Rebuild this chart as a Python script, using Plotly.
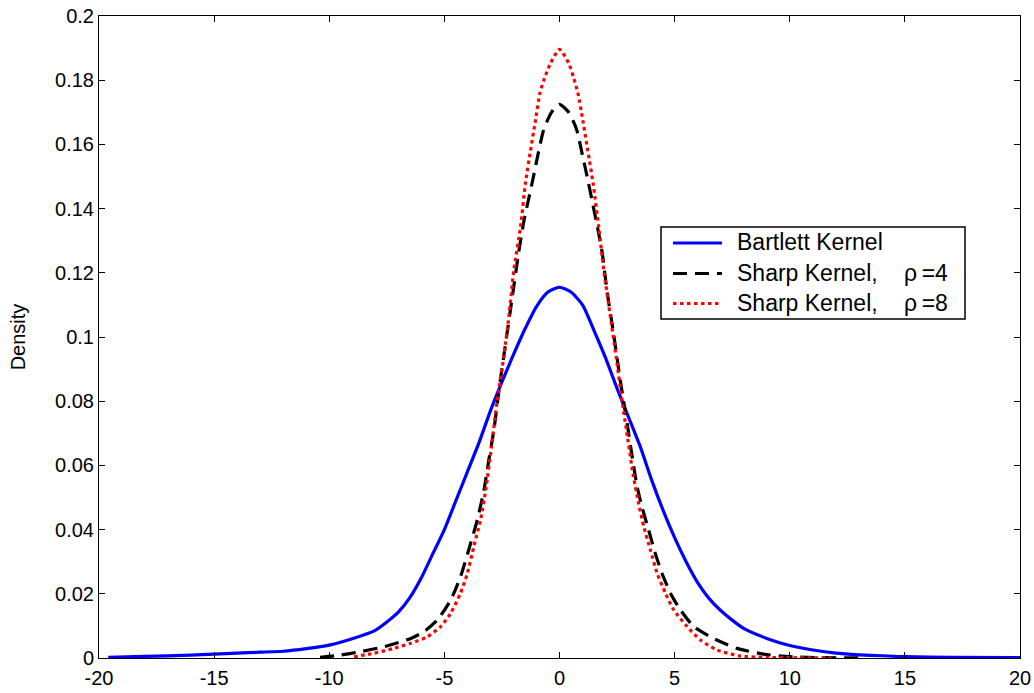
import plotly.graph_objects as go

# Bartlett kernel density estimate
x_bartlett = [-19.6, -18, -16, -15, -14, -13, -12, -11, -10, -9, -8, -7.5, -7, -6.5, -6,
              -5.5, -5, -4.5, -4, -3.5, -3, -2.5, -2, -1.5, -1, -0.5, 0, 0.5, 1, 1.5,
              2, 2.5, 3, 3.5, 4, 4.5, 5, 5.5, 6, 6.5, 7, 7.5, 8, 9, 10, 11, 12, 13,
              14, 15, 17, 20]
y_bartlett = [0.0002, 0.0005, 0.0009, 0.0012, 0.0015, 0.0018, 0.0021, 0.0029, 0.0040,
              0.0060, 0.0086, 0.0112, 0.0143, 0.0188, 0.0250, 0.0325, 0.0400, 0.0490,
              0.0580, 0.0670, 0.0770, 0.0860, 0.0945, 0.1025, 0.1095, 0.1140, 0.1155,
              0.1140, 0.1100, 0.1020, 0.0935, 0.0840, 0.0750, 0.0660, 0.0555, 0.0460,
              0.0375, 0.0300, 0.0235, 0.0185, 0.0148, 0.0118, 0.0092, 0.0061, 0.0039,
              0.0025, 0.0015, 0.0010, 0.0007, 0.0004, 0.0002, 0.0001]

# Sharp kernel, rho = 4
x_sharp4 = [-10.4, -9.6, -8.63, -7.62, -6.46, -5.89, -5.31, -4.73, -4.3, -3.86, -3.57,
            -3.28, -3.07, -2.85, -2.6, -2.34, -2.06, -1.77, -1.55, -1.34, -1.13, -0.91,
            -0.69, -0.35, 0, 0.4, 0.75, 1.0, 1.2, 1.4, 1.6, 1.85, 2.07, 2.35, 2.65,
            2.94, 3.15, 3.37, 3.58, 3.87, 4.16, 4.45, 4.82, 5.25, 5.83, 6.69, 7.71,
            8.86, 10, 11.5, 13.3]
y_sharp4 = [0.0002, 0.0008, 0.0020, 0.0035, 0.0061, 0.0082, 0.0118, 0.0180, 0.0253,
            0.0357, 0.0430, 0.0523, 0.0617, 0.0710, 0.0850, 0.0980, 0.1120, 0.1265,
            0.1360, 0.1430, 0.1500, 0.1577, 0.1645, 0.1700, 0.1725, 0.1700, 0.1645,
            0.1565, 0.1500, 0.1430, 0.1360, 0.1265, 0.1140, 0.1010, 0.0860, 0.0730,
            0.0630, 0.0534, 0.0471, 0.0399, 0.0326, 0.0264, 0.0202, 0.0150, 0.0098,
            0.0061, 0.0030, 0.0012, 0.0004, 0.0001, 0.0]

# Sharp kernel, rho = 8
x_sharp8 = [-8.92, -8.05, -7.19, -6.46, -5.74, -5.16, -4.73, -4.3, -4.0, -3.72, -3.43,
            -3.2, -2.95, -2.71, -2.42, -2.2, -1.98, -1.69, -1.48, -1.26, -1.04, -0.85,
            -0.65, -0.39, 0, 0.4, 0.62, 0.8, 1.01, 1.23, 1.46, 1.70, 1.92, 2.21, 2.46,
            2.72, 2.95, 3.2, 3.44, 3.66, 3.95, 4.24, 4.6, 4.96, 5.54, 6.12, 6.84, 7.85,
            9, 11.8]
y_sharp8 = [0.0004, 0.0015, 0.0030, 0.0046, 0.0066, 0.0098, 0.0139, 0.0202, 0.0264,
            0.0347, 0.0430, 0.0525, 0.0660, 0.0800, 0.0939, 0.1063, 0.1210, 0.1344,
            0.1479, 0.1580, 0.1676, 0.1760, 0.1806, 0.1853, 0.1896, 0.1853, 0.1806,
            0.1760, 0.1676, 0.1580, 0.1479, 0.1344, 0.1210, 0.1063, 0.0939, 0.0800,
            0.0690, 0.0570, 0.0480, 0.0410, 0.0336, 0.0264, 0.0202, 0.0150, 0.0098,
            0.0056, 0.0025, 0.0006, 0.0002, 0.0]

x_ticks = [-20, -15, -10, -5, 0, 5, 10, 15, 20]
x_tick_labels = ["-20", "-15", "-10", "-5", "0", "5", "10", "15", "20"]
y_ticks = [0, 0.02, 0.04, 0.06, 0.08, 0.1, 0.12, 0.14, 0.16, 0.18, 0.2]
y_tick_labels = ["0", "0.02", "0.04", "0.06", "0.08", "0.1", "0.12", "0.14", "0.16",
                 "0.18", "0.2"]

legend_names = ["Bartlett Kernel", "Sharp Kernel,", "Sharp Kernel,"]
legend_params = ["", "\u03c1\u2009=4", "\u03c1\u2009=8"]

FONT = "Arial, 'Liberation Sans', Helvetica, sans-serif"
W, H = 1034, 693
M_L, M_R, M_T, M_B = 99, 14, 16, 35
PW, PH = W - M_L - M_R, H - M_T - M_B


def px_to_paper(px, py):
    """Convert a pixel position on the page to paper coordinates."""
    return (px - M_L) / PW, (H - M_B - py) / PH


styles = [
    dict(color="#0000ff", width=3.2),
    dict(color="#000000", width=3.2, dash="14px,8px"),
    dict(color="#ff0000", width=3.2, dash="3.5px,3.5px"),
]

fig = go.Figure()
for xs, ys, name, st in zip([x_bartlett, x_sharp4, x_sharp8],
                            [y_bartlett, y_sharp4, y_sharp8],
                            ["Bartlett Kernel", "Sharp Kernel, \u03c1=4",
                             "Sharp Kernel, \u03c1=8"], styles):
    fig.add_trace(go.Scatter(x=xs, y=ys, mode="lines", name=name,
                             line=dict(shape="spline", smoothing=0.6, **st),
                             showlegend=False))

axis_common = dict(showline=True, linecolor="black", linewidth=1, mirror="ticks",
                   ticks="inside", ticklen=6, tickcolor="black", tickwidth=1,
                   showgrid=False, zeroline=False, automargin=False,
                   tickfont=dict(family=FONT, size=20, color="black"))

# Legend box drawn on the paper
shapes = []
annotations = []
bx0, by0 = px_to_paper(661, 227)
bx1, by1 = px_to_paper(965, 319)
shapes.append(dict(type="rect", xref="paper", yref="paper", x0=bx0, x1=bx1,
                   y0=by1, y1=by0, line=dict(color="black", width=1.5),
                   fillcolor="white", layer="above"))
rows_y = [243, 273.5, 303.5]
for ry, st, nm, prm in zip(rows_y, styles, legend_names, legend_params):
    lx0, ly = px_to_paper(673, ry)
    lx1, _ = px_to_paper(722, ry)
    shapes.append(dict(type="line", xref="paper", yref="paper", x0=lx0, x1=lx1,
                       y0=ly, y1=ly, line=st, layer="above"))
    tx, ty = px_to_paper(735, ry - 1)
    annotations.append(dict(xref="paper", yref="paper", x=tx, y=ty, text=nm,
                            showarrow=False, xanchor="left", yanchor="middle",
                            font=dict(family=FONT, size=23, color="black")))
    if prm:
        px_, _ = px_to_paper(902, ry - 1)
        annotations.append(dict(xref="paper", yref="paper", x=px_, y=ty, text=prm,
                                showarrow=False, xanchor="left", yanchor="middle",
                                font=dict(family=FONT, size=23, color="black")))

fig.update_layout(
    width=W, height=H,
    margin=dict(l=M_L, r=M_R, t=M_T, b=M_B),
    paper_bgcolor="white", plot_bgcolor="white",
    font=dict(family=FONT, color="black"),
    xaxis=dict(range=[-20, 20], tickvals=x_ticks, ticktext=x_tick_labels,
               ticklabelstandoff=2, **axis_common),
    yaxis=dict(range=[0, 0.2], tickvals=y_ticks, ticktext=y_tick_labels,
               title=dict(text="Density", font=dict(family=FONT, size=20), standoff=24),
               **axis_common),
    shapes=shapes,
    annotations=annotations,
    showlegend=False,
)

fig.write_html("out.html")
